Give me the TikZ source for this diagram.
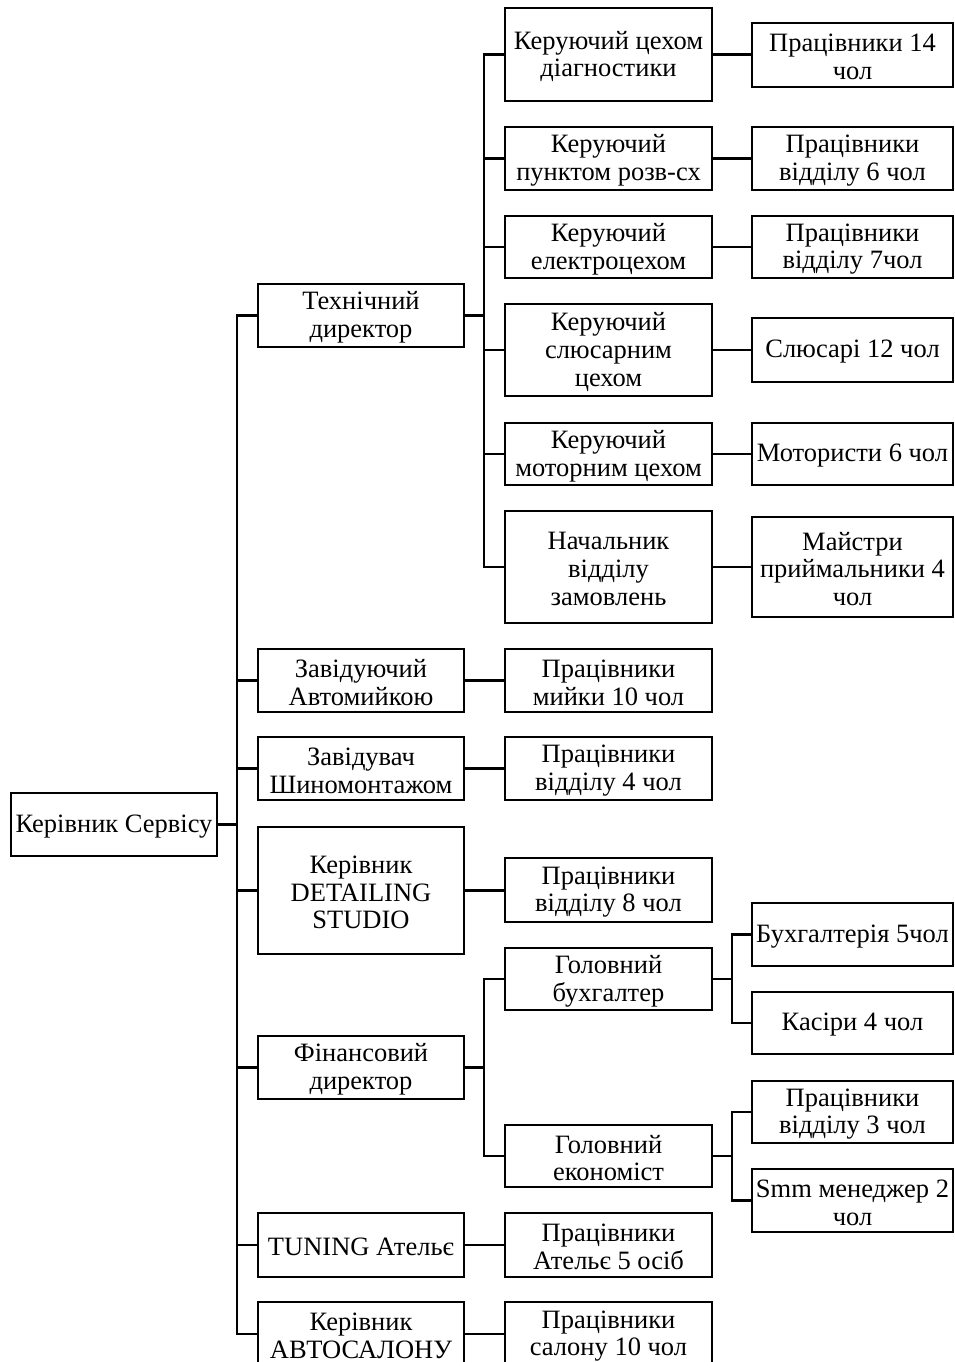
\documentclass[tikz,border=0pt]{standalone}
\usepackage{fontspec}
\setmainfont{Liberation Serif}
\begin{document}
\begin{tikzpicture}[x=1pt,y=-1pt,
  box/.style={draw=black,line width=2.2pt,fill=white,inner sep=0pt},
  txt/.style={inner sep=0pt,align=center,font=\fontsize{26.5}{27.8}\selectfont},
  conn/.style={draw=black,line width=2.2pt},
  rootconn/.style={draw=black,line width=3.2pt}]
\newcommand\bx[6]{\node[box,minimum width={#4pt-#2pt},minimum height={#5pt-#3pt}]
  (#1) at ({(#2+#4)/2},{(#3+#5)/2}) {};
  \node[txt] (#1-t) at ([yshift=-2pt]#1.center) {#6};}
\useasboundingbox (0,0) rectangle (955,1362);
\clip (0,0) rectangle (955,1362);
% root
\bx{root}{11}{793}{217}{856}{Керівник Сервісу}
% level 1
\bx{tech}{258}{284}{464}{347}{Технічний\\директор}
\bx{wash}{258}{649}{464}{712}{Завідуючий\\Автомийкою}
\bx{tire}{258}{737}{464}{800}{Завідувач\\Шиномонтажом}
\bx{detail}{258}{827}{464}{954}{Керівник\\DETAILING\\STUDIO}
\bx{fin}{258}{1036}{464}{1099}{Фінансовий\\директор}
\bx{tuning}{258}{1213}{464}{1277}{TUNING Ательє}
\bx{salon}{258}{1302}{464}{1366}{Керівник\\АВТОСАЛОНУ}
% level 2 (technical)
\bx{diag}{505}{8}{712}{101}{Керуючий цехом\\діагностики}
\bx{razv}{505}{127}{712}{190}{Керуючий\\пунктом розв-сх}
\bx{elec}{505}{216}{712}{278}{Керуючий\\електроцехом}
\bx{slus}{505}{304}{712}{396}{Керуючий\\слюсарним\\цехом}
\bx{motor}{505}{423}{712}{485}{Керуючий\\моторним цехом}
\bx{order}{505}{511}{712}{623}{Начальник\\відділу\\замовлень}
% level 2 (others)
\bx{washw}{505}{649}{712}{712}{Працівники\\мийки 10 чол}
\bx{tirew}{505}{737}{712}{800}{Працівники\\відділу 4 чол}
\bx{detailw}{505}{858}{712}{922}{Працівники\\відділу 8 чол}
\bx{buh}{505}{948}{712}{1010}{Головний\\бухгалтер}
\bx{econ}{505}{1125}{712}{1187}{Головний\\економіст}
\bx{tuningw}{505}{1213}{712}{1277}{Працівники\\Ательє 5 осіб}
\bx{salonw}{505}{1302}{712}{1366}{Працівники\\салону 10 чол}
% level 3
\bx{diagw}{752}{23}{953}{87}{Працівники 14\\чол}
\bx{razvw}{752}{127}{953}{190}{Працівники\\відділу 6 чол}
\bx{elecw}{752}{216}{953}{278}{Працівники\\відділу 7чол}
\bx{slusw}{752}{318}{953}{382}{Слюсарі 12 чол}
\bx{motorw}{752}{423}{953}{485}{Мотористи 6 чол}
\bx{orderw}{752}{517}{953}{617}{Майстри\\приймальники 4\\чол}
\bx{buhw}{752}{903}{953}{966}{Бухгалтерія 5чол}
\bx{kasa}{752}{992}{953}{1054}{Касіри 4 чол}
\bx{econw}{752}{1081}{953}{1143}{Працівники\\відділу 3 чол}
\bx{smm}{752}{1169}{953}{1232}{Smm менеджер 2\\чол}
% bus coordinates
\coordinate (t1) at (237,0);
\coordinate (t2) at (484,0);
\coordinate (t3) at (732,0);
% trunk
\draw[rootconn] (root.east) -- (root.east -| t1);
\draw[conn] (tech.west) -- (tech.west -| t1) -- (salon.west -| t1) -- (salon.west);
\foreach \n in {wash,tire,detail,fin,tuning}{\draw[conn] (\n.west) -- (\n.west -| t1);}
% technical branch
\draw[conn] (tech.east) -- (tech.east -| t2);
\draw[conn] (diag.west) -- (diag.west -| t2) -- (order.west -| t2) -- (order.west);
\foreach \n in {razv,elec,slus,motor}{\draw[conn] (\n.west) -- (\n.west -| t2);}
\foreach \a/\b in {diag/diagw,razv/razvw,elec/elecw,slus/slusw,motor/motorw,order/orderw}
  {\draw[conn] (\a.east) -- (\a.east -| \b.west);}
% single-child branches
\foreach \a/\b in {wash/washw,tire/tirew,detail/detailw,tuning/tuningw,salon/salonw}
  {\draw[conn] (\a.east) -- (\a.east -| \b.west);}
% finance branch
\draw[conn] (fin.east) -- (fin.east -| t2);
\draw[conn] (buh.west) -- (buh.west -| t2) -- (econ.west -| t2) -- (econ.west);
\draw[conn] (buh.east) -- (buh.east -| t3);
\draw[conn] (buhw.west) -- (buhw.west -| t3) -- (kasa.west -| t3) -- (kasa.west);
\draw[conn] (econ.east) -- (econ.east -| t3);
\draw[conn] (econw.west) -- (econw.west -| t3) -- (smm.west -| t3) -- (smm.west);
\end{tikzpicture}
\end{document}
